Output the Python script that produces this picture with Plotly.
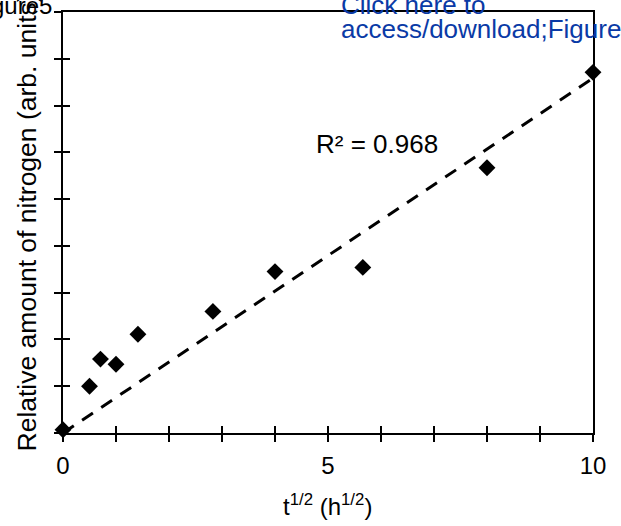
import plotly.graph_objects as go
import numpy as np

# Data
t_sqrt = [0.0, 0.5, 0.7071, 1.0, 1.4142, 2.8284, 4.0, 5.6569, 8.0, 10.0]
nitrogen = [0.07, 1.00, 1.58, 1.47, 2.11, 2.60, 3.45, 3.54, 5.67, 7.71]
x_tickvals = list(range(0, 11))
x_ticktext = ["0", "", "", "", "", "5", "", "", "", "", "10"]
y_tickvals = list(range(0, 10))
r2_label = "R² = 0.968"

# Linear trendline forced through origin (least squares)
xa = np.array(t_sqrt)
ya = np.array(nitrogen)
slope = float((xa * ya).sum() / (xa * xa).sum())
fit_x = [float(xa.min()), float(xa.max())]
fit_y = [slope * v for v in fit_x]

FONT = "Liberation Sans, Arial, sans-serif"
W, H = 621, 526
L, R, T, B = 63, 28, 10, 93
PW, PH = W - L - R, H - T - B

def px(x):
    return (x - L) / PW

def py(y):
    return (T + PH - y) / PH

fig = go.Figure()
fig.add_trace(go.Scatter(
    x=t_sqrt, y=nitrogen, mode="markers",
    marker=dict(symbol="diamond", size=13, color="black"),
    cliponaxis=False, showlegend=False))
fig.add_trace(go.Scatter(
    x=fit_x, y=fit_y, mode="lines",
    line=dict(color="black", width=3, dash="13px,10px"),
    showlegend=False))
fig.add_trace(go.Scatter(x=[None], y=[None], xaxis="x2", yaxis="y2",
                         showlegend=False, hoverinfo="skip"))

axis_common = dict(showgrid=False, zeroline=False, linecolor="black",
                   tickcolor="black", tickwidth=1.5, ticklen=7)

fig.update_layout(
    width=W, height=H,
    margin=dict(l=L, r=R, t=T, b=B, pad=0),
    paper_bgcolor="white", plot_bgcolor="white",
    font=dict(family=FONT, size=24, color="black"),
    xaxis=dict(range=[0, 10], tickvals=x_tickvals, ticktext=x_ticktext,
               ticks="outside", showline=True, linewidth=2, mirror=True,
               ticklabelstandoff=3, tickfont=dict(size=24), **axis_common),
    yaxis=dict(range=[0, 9], tickvals=y_tickvals, showticklabels=False,
               ticks="outside", showline=True, linewidth=2, mirror=True,
               **axis_common),
    xaxis2=dict(range=[0, 10], overlaying="x", anchor="y", side="bottom",
                tickvals=x_tickvals, showticklabels=False, ticks="inside",
                showline=False, **axis_common),
    yaxis2=dict(range=[0, 9], overlaying="y", anchor="x", side="left",
                tickvals=y_tickvals, showticklabels=False, ticks="inside",
                showline=False, **axis_common),
    showlegend=False,
)

annotations = [
    dict(text=r2_label, x=5.92, y=6.17, xref="x", yref="y",
         showarrow=False, font=dict(size=26, color="black")),
    dict(text="t<sup>1/2</sup> (h<sup>1/2</sup>)", x=px(327), y=py(522),
         xref="paper", yref="paper", xanchor="center", yanchor="bottom",
         showarrow=False, font=dict(size=24, color="black")),
    dict(text="Relative amount of nitrogen (arb. units)", x=px(26), y=0.5,
         xref="paper", yref="paper", xanchor="center", yanchor="middle",
         textangle=-90, showarrow=False, font=dict(size=26.5, color="black")),
    dict(text="Figure5", x=px(54), y=py(3.6), xref="paper", yref="paper",
         xanchor="right", yanchor="middle", showarrow=False,
         font=dict(size=24, color="black")),
    dict(text="Click here to", x=px(339), y=py(3.2), xref="paper", yref="paper",
         xanchor="left", yanchor="middle", showarrow=False,
         font=dict(size=26, color="#0a3aa6")),
    dict(text="access/download;Figure;Figure5.pdf", x=px(339), y=py(27.2),
         xref="paper", yref="paper", xanchor="left", yanchor="middle",
         showarrow=False, font=dict(size=26, color="#0a3aa6")),
]
fig.update_layout(annotations=annotations)

fig.write_html("out.html",
               config={"displayModeBar": False},
               post_script="document.body.style.margin='0px';")
